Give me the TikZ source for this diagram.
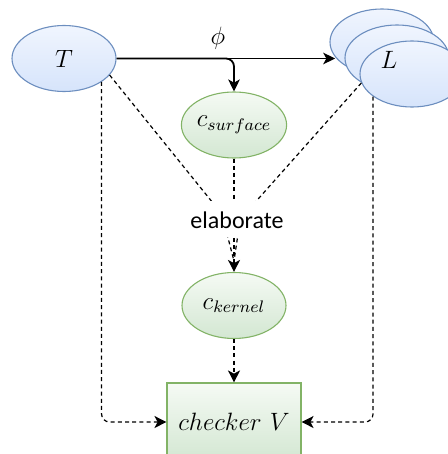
\documentclass[tikz,border=0pt]{standalone}
\usepackage{fontspec}
\newfontfamily\elfont{Carlito}
\usetikzlibrary{arrows.meta,shapes.geometric}
\definecolor{blueS}{HTML}{6C8EBF}
\definecolor{blueTop}{HTML}{F0F5FE}
\definecolor{blueBot}{HTML}{D6E4FB}
\definecolor{greenS}{HTML}{82B366}
\definecolor{greenTop}{HTML}{F5FAF4}
\definecolor{greenBot}{HTML}{D3E7D2}
\newcommand\mt[1]{\scalebox{1.045}{$#1$}}
\begin{document}
\begin{tikzpicture}[x=0.5pt,y=-0.5pt,
  blueell/.style={ellipse, draw=blueS, line width=0.55pt, top color=blueTop, bottom color=blueBot,
    minimum width=52pt, minimum height=33pt, inner sep=0pt, font=\large},
  greenell/.style={ellipse, draw=greenS, line width=0.55pt, top color=greenTop, bottom color=greenBot,
    minimum width=52pt, minimum height=33pt, inner sep=0pt, font=\large},
  greenbox/.style={rectangle, draw=greenS, line width=0.55pt, top color=greenTop, bottom color=greenBot,
    minimum width=67pt, minimum height=39pt, inner sep=0pt, font=\large},
  tiptxt/.style={font=\large, inner sep=0pt},
  elab/.style={fill=white, inner sep=1pt, text height=13pt, text depth=3pt, anchor=base,
    font=\elfont\fontsize{12}{14}\selectfont},
  solidarr/.style={line width=0.9pt, -{Stealth[length=6pt,width=5.8pt,inset=1.6pt]}},
  dashln/.style={line width=0.6pt, dash pattern=on 2pt off 1.6pt},
  dasharr/.style={dashln, -{Stealth[length=6pt,width=6pt,inset=1.6pt]}},
]
\useasboundingbox (0,0) rectangle (448,454);
\clip (0,0) rectangle (448,454);
\node[blueell] (T) at (64,58.5) {\mt{T}};
\node[blueell] (Lb) at (382,42) {};
\node[blueell] (Lm) at (397,58) {};
\node[blueell] (Lf) at (412,74) {};
\node[tiptxt] (Ltxt) at (389,60) {\mt{L}};
\node[greenell] (cs) at (234,125) {\mt{c_{surface}}};
\node[greenell] (ck) at (234,305.5) {\mt{c_{kernel}}};
\node[greenbox] (chk) at (234,422) {\mt{checker\ V}};
\node[tiptxt] (phi) at (218,38) {\mt{\phi}};
\coordinate (Tend) at (T.east -| Lb.198);
\draw[solidarr] (T.east) -- (Tend);
\draw[solidarr, rounded corners=4pt] (T.east) -| (cs.north);
\coordinate (wT) at (238,234);
\coordinate (wL) at (227,234);
\coordinate (m) at (234,261);
\draw[dashln] (T.-20) -- (wT) -- (m);
\draw[dashln] (Lf.190) -- (wL) -- (m);
\draw[dasharr] (cs.south) -- (ck.north);
\node[elab] (el) at (237,228.5) {elaborate};
\draw[dasharr] (ck.south) -- (chk.north);
\draw[dasharr, rounded corners=4pt] (T.-32) |- (chk.west);
\draw[dasharr, rounded corners=4pt] (Lf.210) |- (chk.east);
\end{tikzpicture}
\end{document}
